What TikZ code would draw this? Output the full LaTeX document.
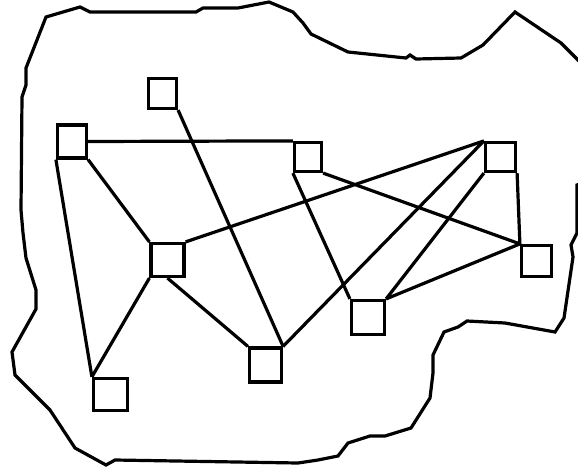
\documentclass[tikz,border=0pt]{standalone}
\begin{document}
\begin{tikzpicture}[x=1pt,y=-1pt,line width=3.2pt,
    vert/.style={draw,rectangle,minimum width=30pt,minimum height=30pt,inner sep=0pt}]
  \useasboundingbox (0,0) rectangle (578,469);
  \clip (0,0) rectangle (578,469);
  % outline
  \draw (46,17) -- (80,7) -- (90,12) -- (196,12) -- (203,8) -- (238,8)
    -- (269,2) -- (293,12) -- (303,23) -- (311,34) -- (348,52) -- (406,58)
    -- (410,55) -- (416,59) -- (461,58) -- (483,45) -- (515,12) -- (561,43)
    -- (592,74) -- (592,180) -- (577,185) -- (577,233) -- (571,245)
    -- (573,257) -- (564,318) -- (555,332) -- (505,323) -- (467,321)
    -- (458,327) -- (444,332) -- (433,355) -- (433,373) -- (430,398)
    -- (411,428) -- (385,436) -- (370,436) -- (348,443) -- (338,456)
    -- (318,460) -- (298,463) -- (115,460) -- (106,465) -- (75,448)
    -- (50,410) -- (15,375) -- (12,352) -- (36,309) -- (36,290)
    -- (26,258) -- (23,233) -- (21,210) -- (22,97) -- (26,85) -- (26,68)
    -- cycle;
  % vertices
  \node[vert,minimum width=29pt,minimum height=33pt] (a) at (72,141.5) {};
  \node[vert,minimum width=28pt] (b) at (162.5,93.5) {};
  \node[vert,minimum width=27pt,minimum height=29pt] (c) at (308,157) {};
  \node[vert,minimum height=29pt] (d) at (500.5,157) {};
  \node[vert,minimum height=31pt] (e) at (536.5,261) {};
  \node[vert,minimum width=33pt,minimum height=34pt] (f) at (368,317.5) {};
  \node[vert,minimum width=33pt,minimum height=33pt] (g) at (167.5,260) {};
  \node[vert,minimum width=32pt,minimum height=34pt] (h) at (265.5,365) {};
  \node[vert,minimum width=34pt,minimum height=32pt] (i) at (110.5,394.5) {};
  % edges
  \draw (a.east) -- (c.north west);
  \draw (a.south west) -- (i.north west);
  \draw (a.south east) -- (g.north west);
  \draw (b.south east) -- (h.north east);
  \draw (g.north east) -- (d.north west);
  \draw (g.south west) -- (i.north west);
  \draw (g.south) -- (h.north west);
  \draw (c.south west) -- (f.north west);
  \draw (c.south east) -- (e.north west);
  \draw (d.north west) -- (h.north east);
  \draw (d.south west) -- (f.north east);
  \draw (d.south east) -- (e.north west);
  \draw (f.north east) -- (e.north west);
\end{tikzpicture}
\end{document}
